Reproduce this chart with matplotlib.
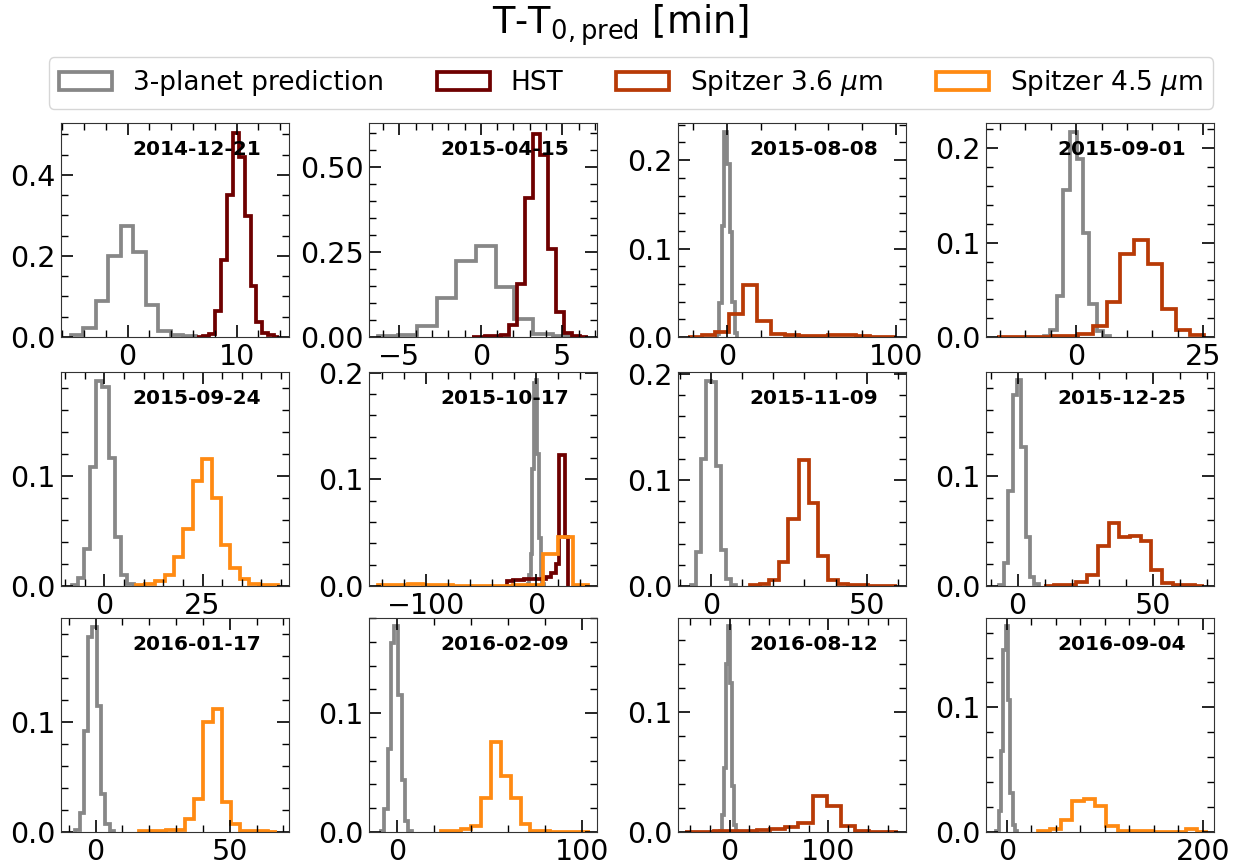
import matplotlib
matplotlib.use("Agg")
import matplotlib.pyplot as plt
from matplotlib.ticker import MultipleLocator
from matplotlib.patches import Patch

# ---------------- data (bin edges in minutes, normalised heights) ----------------
dates = ["2014-12-21", "2015-04-15", "2015-08-08", "2015-09-01",
         "2015-09-24", "2015-10-17", "2015-11-09", "2015-12-25",
         "2016-01-17", "2016-02-09", "2016-08-12", "2016-09-04"]

series_labels = ["3-planet prediction", "HST", r"Spitzer 3.6 $\mu$m", r"Spitzer 4.5 $\mu$m"]

# 2014-12-21
p01_pred_edges = [-5.2, -4.07, -2.91, -1.77, -0.6, 0.52, 1.68, 2.8, 3.94, 5.1, 6.24]
p01_pred_heights = [0.004, 0.022, 0.088, 0.2, 0.275, 0.21, 0.079, 0.015, 0.006, 0.002]
p01_hst_edges = [6.38, 6.92, 7.46, 8.01, 8.55, 9.10, 9.64, 10.19, 10.73, 11.28, 11.82, 12.37, 12.91, 13.45, 13.9]
p01_hst_heights = [0.001, 0.003, 0.008, 0.065, 0.19, 0.351, 0.504, 0.445, 0.298, 0.127, 0.037, 0.01, 0.004, 0.001]

# 2015-04-15
p02_pred_edges = [-6.3, -5.1, -3.9, -2.7, -1.5, -0.3, 0.9, 2.05, 3.2, 4.4, 5.6]
p02_pred_heights = [0.004, 0.005, 0.031, 0.115, 0.222, 0.266, 0.147, 0.053, 0.008, 0.003]
p02_hst_edges = [-0.55, -0.2, 0.26, 0.75, 1.23, 1.72, 2.23, 2.70, 3.17, 3.66, 4.15, 4.64, 5.11, 5.60, 6.09, 6.58]
p02_hst_heights = [0.001, 0.001, 0.002, 0.003, 0.006, 0.035, 0.156, 0.409, 0.597, 0.534, 0.259, 0.074, 0.011, 0.003, 0.001]

# 2015-08-08
p03_pred_edges = [-6.1, -4.55, -3.0, -1.55, 0.0, 1.55, 3.1, 4.65, 6.2]
p03_pred_heights = [0.003, 0.039, 0.125, 0.232, 0.196, 0.119, 0.04, 0.005]
p03_s36_edges = [-23, -15, -7, 1, 9.4, 17.7, 26.1, 34.5, 42.9, 51.3, 59.7, 68, 76.4, 84.8, 93.2, 100]
p03_s36_heights = [0.0005, 0.002, 0.006, 0.026, 0.059, 0.018, 0.003, 0.002, 0.001, 0.001, 0.002, 0.002, 0.001, 0.0005, 0.0005]

# 2015-09-01
p04_pred_edges = [-6.4, -5.1, -3.7, -2.5, -1.2, 0.1, 1.3, 2.6, 4.05, 5.35, 6.7]
p04_pred_heights = [0.001, 0.007, 0.043, 0.156, 0.217, 0.189, 0.11, 0.035, 0.006, 0.001]
p04_s36_edges = [-15.6, -13.3, -10.5, -7.8, -5.0, -2.3, 0.46, 3.27, 6.02, 8.64, 11.39, 14.2, 16.8, 19.6, 22.4, 25.1]
p04_s36_heights = [0.0003, 0.0003, 0.0003, 0.0005, 0.001, 0.001, 0.003, 0.012, 0.037, 0.088, 0.103, 0.077, 0.03, 0.007, 0.002]

# 2015-09-24
p05_pred_edges = [-8.2, -6.6, -5.1, -3.6, -2.0, -0.45, 1.1, 2.7, 4.3, 5.9, 7.5]
p05_pred_heights = [0.0006, 0.007, 0.034, 0.108, 0.187, 0.181, 0.117, 0.045, 0.01, 0.002]
p05_s45_edges = [8.2, 10.3, 12.8, 15.35, 17.7, 20.1, 22.5, 24.8, 27.3, 29.6, 32.1, 34.6, 36.9, 39.3, 41.8, 44.1]
p05_s45_heights = [0.0006, 0.002, 0.005, 0.01, 0.026, 0.052, 0.096, 0.116, 0.08, 0.037, 0.016, 0.006, 0.002, 0.001, 0.0005]

# 2015-10-17
p06_pred_edges = [-7.5, -6, -4.5, -3, -1.5, 0, 1.5, 3, 4.5, 6, 7.5]
p06_pred_heights = [0.002, 0.01, 0.03, 0.11, 0.19, 0.193, 0.124, 0.045, 0.01, 0.002]
p06_hst_edges = [-26, -21, -16, -11, -6, -1, 4, 9, 13.5, 18.2, 21.2, 26.4, 29.4]
p06_hst_heights = [0.005, 0.006, 0.006, 0.007, 0.007, 0.007, 0.007, 0.008, 0.012, 0.021, 0.1225, 0.046]
p06_s45_edges = [-142.9, -129.3, -115.7, -102.1, -88.5, -74.9, -61.3, -47.7, -34.1, -20.5, -6.9, 6.7, 20.3, 33.9, 47.5]
p06_s45_heights = [0.0008, 0.001, 0.0015, 0.001, 0.0005, 0.0003, 0.0003, 0.0003, 0.0003, 0.0005, 0.0008, 0.03, 0.046, 0.0005]

# 2015-11-09
p07_pred_edges = [-6.3, -4.7, -3.1, -1.5, 0.1, 1.7, 3.3, 4.9, 6.5, 8.1]
p07_pred_heights = [0.0013, 0.032, 0.12, 0.193, 0.192, 0.113, 0.034, 0.007, 0.001]
p07_s36_edges = [12.6, 15.6, 18.5, 21.7, 24.7, 28.1, 31.5, 34.5, 37.5, 40.7, 44.1, 47.2, 50.3, 53.4, 56.5, 59.6]
p07_s36_heights = [0.0006, 0.002, 0.006, 0.023, 0.063, 0.119, 0.078, 0.028, 0.006, 0.002, 0.001, 0.0006, 0.0004, 0.0003, 0.0003]

# 2015-12-25
p08_pred_edges = [-6.8, -5.2, -3.45, -1.85, -0.25, 1.35, 2.95, 4.55, 6.15, 7.75]
p08_pred_heights = [0.001, 0.021, 0.087, 0.174, 0.1875, 0.127, 0.045, 0.008, 0.002]
p08_s36_edges = [9.6, 13.6, 17.6, 21.6, 25.6, 29.7, 33.9, 37.7, 41.6, 45.6, 49.3, 53.6, 57.6, 61.6, 65.6, 69.0]
p08_s36_heights = [0.0003, 0.0005, 0.001, 0.004, 0.01, 0.036, 0.057, 0.045, 0.046, 0.041, 0.015, 0.003, 0.001, 0.0005, 0.0003]

# 2016-01-17
p09_pred_edges = [-7.6, -6.0, -4.4, -2.8, -1.2, 0.4, 2.0, 3.6, 5.2, 6.8]
p09_pred_heights = [0.002, 0.017, 0.092, 0.178, 0.187, 0.115, 0.035, 0.007, 0.001]
p09_s45_edges = [16.2, 19.6, 23.0, 26.4, 29.8, 33.25, 36.7, 40.1, 43.8, 47.3, 50.6, 54.0, 57.4, 60.8, 64.2, 67.6]
p09_s45_heights = [0.0005, 0.0008, 0.001, 0.0015, 0.002, 0.012, 0.03, 0.1, 0.112, 0.027, 0.007, 0.001, 0.0008, 0.0005, 0.0003]

# 2016-02-09
p10_pred_edges = [-8.8, -7.0, -5.0, -3.2, -1.4, 0.5, 2.5, 4.3, 6.1, 8.1]
p10_pred_heights = [0.0006, 0.019, 0.07, 0.159, 0.173, 0.115, 0.044, 0.009, 0.001]
p10_s45_edges = [24.0, 29.4, 34.7, 40.0, 45.4, 50.7, 56.0, 61.4, 66.7, 72.0, 77.3, 82.6, 88.0, 93.3, 98.6, 103.9]
p10_s45_heights = [0.0005, 0.001, 0.0025, 0.005, 0.029, 0.076, 0.047, 0.029, 0.007, 0.001, 0.0005, 0.0003, 0.0003, 0.0003, 0.0003]

# 2016-08-12
p11_pred_edges = [-10, -8, -6, -4, -2, 0, 2, 4, 6, 8]
p11_pred_heights = [0.001, 0.014, 0.053, 0.14, 0.171, 0.124, 0.038, 0.006, 0.001]
p11_s36_edges = [-44.7, -30.4, -16.1, -1.8, 12.5, 27.6, 41.1, 55.6, 69.7, 84.2, 98.3, 112.5, 126.9, 141.4, 155.6, 169.9]
p11_s36_heights = [0.0002, 0.0003, 0.0005, 0.0007, 0.001, 0.002, 0.0025, 0.004, 0.0075, 0.03, 0.022, 0.005, 0.001, 0.0003, 0.0002]

# 2016-09-04
p12_pred_edges = [-11, -8.6, -6.2, -3.8, -1.4, 1.0, 3.4, 5.8, 8.2, 10.6]
p12_pred_heights = [0.001, 0.017, 0.065, 0.146, 0.165, 0.106, 0.031, 0.006, 0.001]
p12_s45_edges = [31.9, 43.5, 55.1, 66.7, 78.3, 89.9, 101.5, 113.1, 124.7, 136.3, 147.9, 159.5, 171.1, 182.7, 194.3, 205.9]
p12_s45_heights = [0.0005, 0.0025, 0.01, 0.025, 0.0265, 0.021, 0.0045, 0.001, 0.0005, 0.0005, 0.0003, 0.0003, 0.0003, 0.0025, 0.0003]

# ---------------- styling / layout ----------------
colors = {"pred": "#878787", "hst": "#6e0000", "s36": "#b83a06", "s45": "#ff8a12"}

panels = [
    [("pred", p01_pred_edges, p01_pred_heights), ("hst", p01_hst_edges, p01_hst_heights)],
    [("pred", p02_pred_edges, p02_pred_heights), ("hst", p02_hst_edges, p02_hst_heights)],
    [("pred", p03_pred_edges, p03_pred_heights), ("s36", p03_s36_edges, p03_s36_heights)],
    [("pred", p04_pred_edges, p04_pred_heights), ("s36", p04_s36_edges, p04_s36_heights)],
    [("pred", p05_pred_edges, p05_pred_heights), ("s45", p05_s45_edges, p05_s45_heights)],
    [("pred", p06_pred_edges, p06_pred_heights), ("hst", p06_hst_edges, p06_hst_heights),
     ("s45", p06_s45_edges, p06_s45_heights)],
    [("pred", p07_pred_edges, p07_pred_heights), ("s36", p07_s36_edges, p07_s36_heights)],
    [("pred", p08_pred_edges, p08_pred_heights), ("s36", p08_s36_edges, p08_s36_heights)],
    [("pred", p09_pred_edges, p09_pred_heights), ("s45", p09_s45_edges, p09_s45_heights)],
    [("pred", p10_pred_edges, p10_pred_heights), ("s45", p10_s45_edges, p10_s45_heights)],
    [("pred", p11_pred_edges, p11_pred_heights), ("s36", p11_s36_edges, p11_s36_heights)],
    [("pred", p12_pred_edges, p12_pred_heights), ("s45", p12_s45_edges, p12_s45_heights)],
]

xlims = [(-6.1, 14.8), (-6.87, 7.13), (-29, 106), (-17.7, 27.1),
         (-11, 47), (-151.5, 55.6), (-10.6, 62.6), (-11.7, 72.7),
         (-12.9, 72.1), (-15.1, 107.9), (-52.2, 178.5), (-21.4, 211.6)]
ylims = [0.528, 0.628, 0.242, 0.2268, 0.195, 0.2006, 0.2016, 0.195, 0.195, 0.18, 0.178, 0.1717]
xmaj = [10, 5, 100, 25, 25, 100, 50, 50, 50, 100, 100, 200]
xmin = [2, 1, 20, 5, 5, 20, 10, 10, 10, 20, 20, 25]
ymaj = [0.2, 0.25, 0.1, 0.1, 0.1, 0.1, 0.1, 0.1, 0.1, 0.1, 0.1, 0.1]
ymin = [0.05, 0.05, 0.02, 0.02, 0.02, 0.02, 0.02, 0.02, 0.02, 0.02, 0.02, 0.02]

W, H = 1241, 865
fig = plt.figure(figsize=(W / 100, H / 100), dpi=100)

col_left = [61, 369, 678, 986]
row_top = [123, 372, 618]
ax_w, ax_h = 228, 214

for i, series in enumerate(panels):
    r, c = divmod(i, 4)
    l = col_left[c] / W
    b = 1 - (row_top[r] + ax_h) / H
    ax = fig.add_axes([l, b, ax_w / W, ax_h / H])
    for key, edges, heights in series:
        ax.stairs(heights, edges, baseline=0, color=colors[key], lw=2.7, fill=False)
    ax.set_xlim(*xlims[i])
    ax.set_ylim(0, ylims[i])
    ax.xaxis.set_major_locator(MultipleLocator(xmaj[i]))
    ax.xaxis.set_minor_locator(MultipleLocator(xmin[i]))
    ax.yaxis.set_major_locator(MultipleLocator(ymaj[i]))
    ax.yaxis.set_minor_locator(MultipleLocator(ymin[i]))
    ax.tick_params(which="both", direction="in", top=True, right=True, labelsize=20.5, pad=4)
    ax.tick_params(which="major", length=8.5, width=1.2)
    ax.tick_params(which="minor", length=5, width=1.0)
    for sp in ax.spines.values():
        sp.set_color("#333333")
    ax.text(0.595, 0.875, dates[i], transform=ax.transAxes, ha="center", va="center",
            fontsize=14.5, fontweight="bold")

handles = [Patch(facecolor="none", edgecolor=colors[k], lw=2.7, label=lab)
           for k, lab in zip(["pred", "hst", "s36", "s45"], series_labels)]
fig.legend(handles=handles, loc="center", bbox_to_anchor=(631 / W, 1 - 83 / H), ncol=4,
           fontsize=19, frameon=True)

fig.text(0.5, 1 - 25 / H, r"T-T$_{0,\mathrm{pred}}$ [min]", ha="center", va="center", fontsize=26.5)

fig.savefig("out.png", dpi=100)
